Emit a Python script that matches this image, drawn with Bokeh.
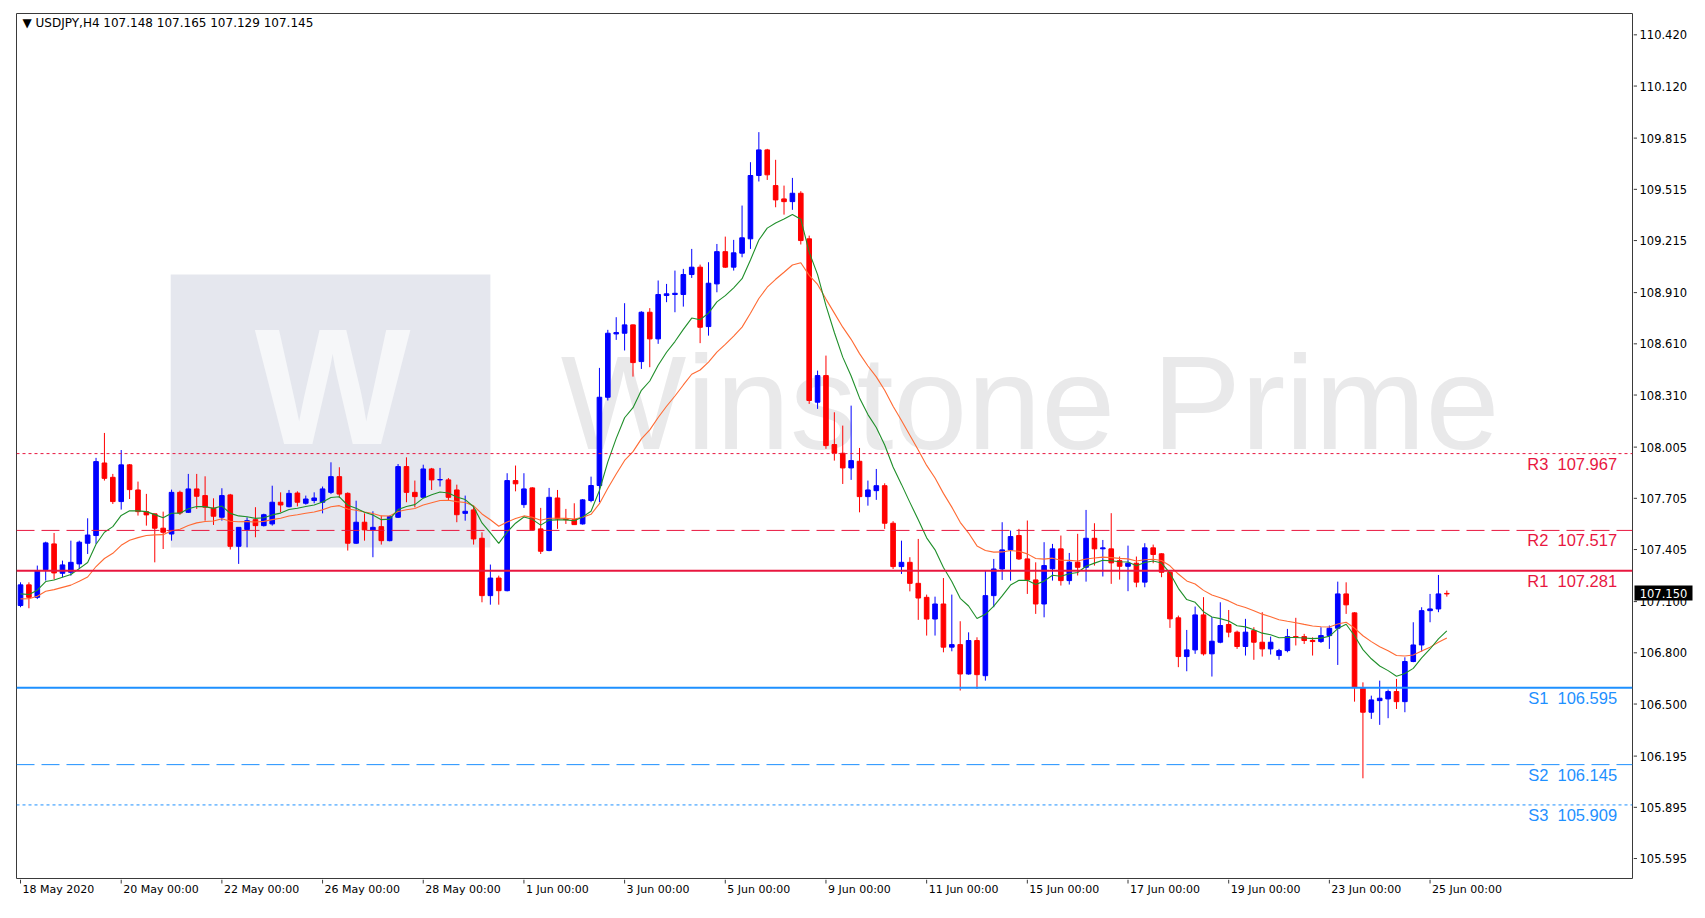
import numpy as np
from bokeh.plotting import figure
from bokeh.layouts import column, row
from bokeh.models import ColumnDataSource, Range1d, Span
from bokeh.core.properties import value
from bokeh.embed import file_html
from bokeh.resources import INLINE

# ---------------- data ----------------
opens = [107.077, 107.198, 107.125, 107.287, 107.438, 107.266, 107.272, 107.321, 107.442, 107.487,
         107.912, 107.828, 107.686, 107.901, 107.754, 107.627, 107.614, 107.530, 107.496, 107.740,
         107.623, 107.760, 107.721, 107.647, 107.594, 107.725, 107.424, 107.522, 107.580, 107.545,
         107.555, 107.682, 107.656, 107.736, 107.676, 107.692, 107.682, 107.740, 107.832, 107.734,
         107.442, 107.565, 107.520, 107.539, 107.457, 107.594, 107.891, 107.740, 107.711, 107.877,
         107.813, 107.813, 107.754, 107.617, 107.637, 107.471, 107.135, 107.238, 107.164, 107.809,
         107.668, 107.766, 107.526, 107.399, 107.707, 107.584, 107.580, 107.555, 107.692, 107.780,
         108.297, 108.668, 108.672, 108.721, 108.506, 108.795, 108.639, 108.893, 108.899, 108.899,
         109.016, 109.059, 108.711, 108.961, 109.150, 109.059, 109.141, 109.225, 109.596, 109.746,
         109.537, 109.459, 109.443, 109.492, 109.225, 108.268, 108.424, 108.020, 107.969, 107.883,
         107.922, 107.715, 107.750, 107.779, 107.559, 107.305, 107.330, 107.207, 107.125, 106.998,
         107.086, 106.833, 106.848, 106.676, 106.872, 106.666, 107.135, 107.291, 107.403, 107.487,
         107.350, 107.227, 107.086, 107.292, 107.409, 107.223, 107.331, 107.301, 107.471, 107.409,
         107.409, 107.340, 107.307, 107.325, 107.214, 107.415, 107.380, 107.272, 107.005, 106.778,
         106.817, 107.022, 106.794, 106.862, 106.966, 106.921, 106.837, 106.930, 106.862, 106.823,
         106.784, 106.813, 106.895, 106.895, 106.872, 106.866, 106.901, 106.944, 107.145, 107.034,
         106.592, 106.452, 106.520, 106.530, 106.573, 106.514, 106.749, 106.846, 107.047, 107.057,
         107.148]
highs = [107.213, 107.213, 107.311, 107.451, 107.502, 107.340, 107.457, 107.457, 107.588, 107.942,
         108.088, 107.848, 107.988, 107.906, 107.803, 107.731, 107.614, 107.627, 107.756, 107.750,
         107.848, 107.848, 107.834, 107.705, 107.764, 107.731, 107.535, 107.594, 107.653, 107.615,
         107.779, 107.740, 107.754, 107.746, 107.721, 107.740, 107.774, 107.916, 107.887, 107.740,
         107.691, 107.617, 107.629, 107.604, 107.604, 107.906, 107.945, 107.809, 107.902, 107.883,
         107.883, 107.824, 107.785, 107.721, 107.662, 107.506, 107.317, 107.252, 107.852, 107.897,
         107.852, 107.770, 107.649, 107.766, 107.754, 107.643, 107.676, 107.701, 107.832, 108.469,
         108.692, 108.766, 108.848, 108.723, 108.801, 108.819, 108.981, 108.961, 109.039, 109.049,
         109.166, 109.074, 109.088, 109.195, 109.238, 109.219, 109.420, 109.674, 109.850, 109.752,
         109.688, 109.537, 109.582, 109.504, 109.244, 108.453, 108.541, 108.209, 108.131, 108.248,
         108.000, 107.809, 107.877, 107.793, 107.571, 107.457, 107.360, 107.467, 107.141, 107.129,
         107.238, 107.141, 106.985, 106.920, 106.891, 107.282, 107.350, 107.565, 107.516, 107.526,
         107.575, 107.330, 107.448, 107.438, 107.487, 107.385, 107.497, 107.637, 107.559, 107.461,
         107.618, 107.364, 107.428, 107.364, 107.442, 107.434, 107.383, 107.278, 107.018, 106.934,
         107.071, 107.126, 107.009, 107.096, 107.051, 106.930, 106.999, 106.950, 107.038, 106.895,
         106.823, 106.940, 107.005, 106.911, 106.891, 106.950, 106.960, 107.217, 107.213, 107.038,
         106.627, 106.549, 106.637, 106.585, 106.647, 106.774, 106.979, 107.067, 107.145, 107.256,
         107.165]
lows = [107.067, 107.061, 107.115, 107.223, 107.229, 107.243, 107.252, 107.291, 107.379, 107.438,
        107.809, 107.672, 107.639, 107.701, 107.604, 107.545, 107.330, 107.408, 107.457, 107.608,
        107.619, 107.643, 107.574, 107.549, 107.574, 107.405, 107.321, 107.418, 107.477, 107.540,
        107.545, 107.623, 107.652, 107.658, 107.668, 107.676, 107.617, 107.730, 107.707, 107.399,
        107.438, 107.457, 107.360, 107.434, 107.453, 107.590, 107.682, 107.652, 107.707, 107.754,
        107.774, 107.691, 107.565, 107.574, 107.434, 107.096, 107.082, 107.082, 107.160, 107.746,
        107.649, 107.516, 107.379, 107.395, 107.526, 107.555, 107.551, 107.551, 107.682, 107.682,
        108.278, 108.633, 108.571, 108.418, 108.463, 108.473, 108.610, 108.854, 108.795, 108.828,
        108.996, 108.614, 108.658, 108.912, 109.055, 109.039, 109.117, 109.166, 109.561, 109.570,
        109.410, 109.367, 109.395, 109.192, 108.258, 108.229, 107.995, 107.926, 107.789, 107.813,
        107.623, 107.662, 107.696, 107.526, 107.291, 107.262, 107.160, 106.993, 106.901, 106.901,
        106.803, 106.809, 106.579, 106.672, 106.588, 106.637, 107.067, 107.227, 107.223, 107.344,
        107.145, 107.028, 107.008, 107.223, 107.194, 107.200, 107.253, 107.217, 107.311, 107.247,
        107.204, 107.229, 107.161, 107.184, 107.184, 107.325, 107.243, 106.946, 106.716, 106.692,
        106.794, 106.784, 106.661, 106.856, 106.891, 106.823, 106.784, 106.759, 106.778, 106.790,
        106.759, 106.803, 106.843, 106.852, 106.784, 106.858, 106.823, 106.729, 107.028, 106.514,
        106.065, 106.413, 106.378, 106.417, 106.471, 106.452, 106.745, 106.807, 106.979, 107.038,
        107.129]
closes = [107.198, 107.125, 107.282, 107.444, 107.268, 107.315, 107.330, 107.448, 107.490, 107.920,
          107.822, 107.686, 107.901, 107.756, 107.627, 107.608, 107.530, 107.506, 107.740, 107.619,
          107.760, 107.717, 107.653, 107.600, 107.721, 107.424, 107.535, 107.574, 107.545, 107.609,
          107.682, 107.666, 107.734, 107.682, 107.701, 107.707, 107.760, 107.832, 107.730, 107.442,
          107.565, 107.520, 107.535, 107.457, 107.598, 107.891, 107.740, 107.715, 107.877, 107.813,
          107.815, 107.711, 107.609, 107.629, 107.467, 107.135, 107.238, 107.164, 107.809, 107.790,
          107.760, 107.520, 107.395, 107.711, 107.584, 107.580, 107.551, 107.696, 107.780, 108.297,
          108.672, 108.676, 108.721, 108.500, 108.795, 108.639, 108.899, 108.903, 108.906, 109.016,
          109.059, 108.707, 108.965, 109.150, 109.059, 109.143, 109.231, 109.596, 109.746, 109.600,
          109.453, 109.443, 109.492, 109.215, 108.278, 108.424, 108.014, 107.969, 107.883, 107.926,
          107.715, 107.754, 107.779, 107.559, 107.305, 107.330, 107.207, 107.121, 106.998, 107.086,
          106.833, 106.848, 106.676, 106.872, 106.672, 107.135, 107.291, 107.403, 107.481, 107.350,
          107.227, 107.086, 107.311, 107.409, 107.223, 107.331, 107.301, 107.471, 107.409, 107.415,
          107.327, 107.307, 107.325, 107.214, 107.415, 107.376, 107.272, 106.999, 106.778, 106.817,
          107.022, 106.794, 106.868, 106.960, 106.921, 106.837, 106.921, 106.862, 106.823, 106.862,
          106.813, 106.895, 106.891, 106.872, 106.866, 106.901, 106.944, 107.145, 107.081, 106.598,
          106.452, 106.524, 106.534, 106.573, 106.514, 106.749, 106.846, 107.047, 107.057, 107.145,
          107.145]

# moving-average starting values read at the first bar
ma_fast_start = 107.145
ma_slow_start = 107.116
ma_fast_period = 10
ma_slow_period = 21

date_tick_bars = [0, 12, 24, 36, 48, 60, 72, 84, 96, 108, 120, 132, 144, 156, 168]
date_tick_labels = ["18 May 2020", "20 May 00:00", "22 May 00:00", "26 May 00:00", "28 May 00:00",
                    "1 Jun 00:00", "3 Jun 00:00", "5 Jun 00:00", "9 Jun 00:00", "11 Jun 00:00",
                    "15 Jun 00:00", "17 Jun 00:00", "19 Jun 00:00", "23 Jun 00:00", "25 Jun 00:00"]
price_ticks = [110.420, 110.120, 109.815, 109.515, 109.215, 108.910, 108.610, 108.310, 108.005,
               107.705, 107.405, 107.100, 106.800, 106.500, 106.195, 105.895, 105.595]

level_names = ["R3", "R2", "R1", "S1", "S2", "S3"]
level_values = [107.967, 107.517, 107.281, 106.595, 106.145, 105.909]

header_text = "\u25BC USDJPY,H4  107.148 107.165 107.129 107.145"
price_tag = 107.150
watermark_text = "Winstone Prime"
logo_letter = "W"

# ---------------- styles ----------------
RED = "#e8173f"
BLUE = "#1e90ff"
BULL = "#0000ff"
BEAR = "#ff0000"
FRAME = "#3a3a3a"
level_style = {
    "R3": dict(color=RED, dash="3 3", width=1),
    "R2": dict(color=RED, dash="18 7", width=1),
    "R1": dict(color=RED, dash="solid", width=2),
    "S1": dict(color=BLUE, dash="solid", width=2),
    "S2": dict(color=BLUE, dash="18 7", width=1),
    "S3": dict(color=BLUE, dash="3 3", width=1),
}
X0, X1 = -0.48, 192.13
Y0, Y1 = 105.478, 110.545


def ema(vals, period, seed):
    a = 2.0 / (period + 1)
    out = [seed]
    for v in vals[1:]:
        out.append(out[-1] + a * (v - out[-1]))
    return out


o = np.array(opens); h = np.array(highs); l = np.array(lows); c = np.array(closes)
idx = np.arange(len(o))
col = np.where(c >= o, BULL, BEAR)

src = ColumnDataSource(dict(x=idx, o=o, h=h, l=l, c=c,
                            top=np.maximum(o, c), bot=np.minimum(o, c), col=col,
                            fast=ema(closes, ma_fast_period, ma_fast_start),
                            slow=ema(closes, ma_slow_period, ma_slow_start)))

xr = Range1d(X0, X1)
yr = Range1d(Y0, Y1)

# ================= main chart =================
main = figure(width=1633, height=879, x_range=xr, y_range=yr,
              output_backend="svg", toolbar_location=None,
              x_axis_location=None, y_axis_location=None,
              min_border_left=16, min_border_top=13, min_border_right=1, min_border_bottom=1,
              background_fill_color="white", border_fill_color="white",
              outline_line_color=FRAME)
main.grid.visible = False

# ---- watermark ----
main.quad(left=[17.9], right=[56.0], top=[109.016], bottom=[107.417],
          fill_color="#e5e7ee", line_color=None)
main.text(x=[37.2], y=[108.36], text=[logo_letter], text_align="center", text_baseline="middle",
          text_font=value("Liberation Sans"), text_font_style="bold", text_font_size="165px",
          text_color="#f6f7f9")
main.text(x=[64.4], y=[108.263], text=[watermark_text], text_align="left", text_baseline="middle",
          text_font=value("Liberation Sans"), text_font_size="133px", text_color="#e9e9ea")

# ---- candles ----
main.segment(x0="x", y0="l", x1="x", y1="h", color="col", line_width=1, source=src)
main.vbar(x="x", width=0.55, top="top", bottom="bot", fill_color="col", line_color="col",
          line_width=1, source=src)

# ---- moving averages ----
main.line("x", "slow", source=src, line_color="#ff6a33", line_width=1.1)
main.line("x", "fast", source=src, line_color="#1f8f2a", line_width=1.1)

# ---- pivot levels ----
for name, val in zip(level_names, level_values):
    st = level_style[name]
    main.add_layout(Span(location=val, dimension="width", line_color=st["color"],
                         line_width=st["width"], line_dash=st["dash"]))
lsrc = ColumnDataSource(dict(x=[190.3] * len(level_names), y=level_values,
                             t=[f"{n}\u00a0\u00a0{v:.3f}" for n, v in zip(level_names, level_values)],
                             col=[level_style[n]["color"] for n in level_names]))
main.text(x="x", y="y", text="t", source=lsrc, text_align="right", text_baseline="top",
          y_offset=1, text_color="col", text_font=value("Liberation Sans"), text_font_size="16.5px")

# ---- header ----
main.text(x=[0.24], y=[110.492], text=[header_text], text_align="left", text_baseline="middle",
          text_font=value("DejaVu Sans"), text_font_size="12px", text_color="#000000")

# ================= price scale (right) =================
side = figure(width=64, height=879, x_range=Range1d(0, 64), y_range=yr,
              output_backend="svg", toolbar_location=None,
              x_axis_location=None, y_axis_location=None,
              min_border_left=0, min_border_top=13, min_border_right=0, min_border_bottom=1,
              background_fill_color="white", border_fill_color="white", outline_line_color=None)
side.grid.visible = False
side.segment(x0=0, x1=3.5, y0=price_ticks, y1=price_ticks, line_color=FRAME, line_width=1)
side.text(x=6, y=price_ticks, text=[f"{t:.3f}" for t in price_ticks], text_align="left",
          text_baseline="middle", text_font=value("DejaVu Sans"), text_font_size="11.5px",
          text_color="#000000")
side.rect(x=[30], y=[price_tag], width=58, height=15, width_units="screen", height_units="screen",
          fill_color="black", line_color=None)
side.text(x=[30], y=[price_tag], text=[f"{price_tag:.3f}"], text_align="center",
          text_baseline="middle", text_font=value("DejaVu Sans"), text_font_size="11.5px",
          text_color="white")

# ================= time scale (bottom) =================
bottom = figure(width=1633, height=29, x_range=xr, y_range=Range1d(0, 29),
                output_backend="svg", toolbar_location=None,
                x_axis_location=None, y_axis_location=None,
                min_border_left=16, min_border_top=0, min_border_right=1, min_border_bottom=0,
                background_fill_color="white", border_fill_color="white", outline_line_color=None)
bottom.grid.visible = False
bottom.segment(x0=date_tick_bars, x1=date_tick_bars, y0=29, y1=25, line_color=FRAME, line_width=1)
bottom.text(x=date_tick_bars, y=26, text=date_tick_labels, x_offset=2, text_align="left",
            text_baseline="top", text_font=value("DejaVu Sans"), text_font_size="11px",
            text_color="#000000")

p = column(row(main, side, spacing=0), bottom, spacing=0)

open("out.html", "w").write(file_html(p, INLINE))
